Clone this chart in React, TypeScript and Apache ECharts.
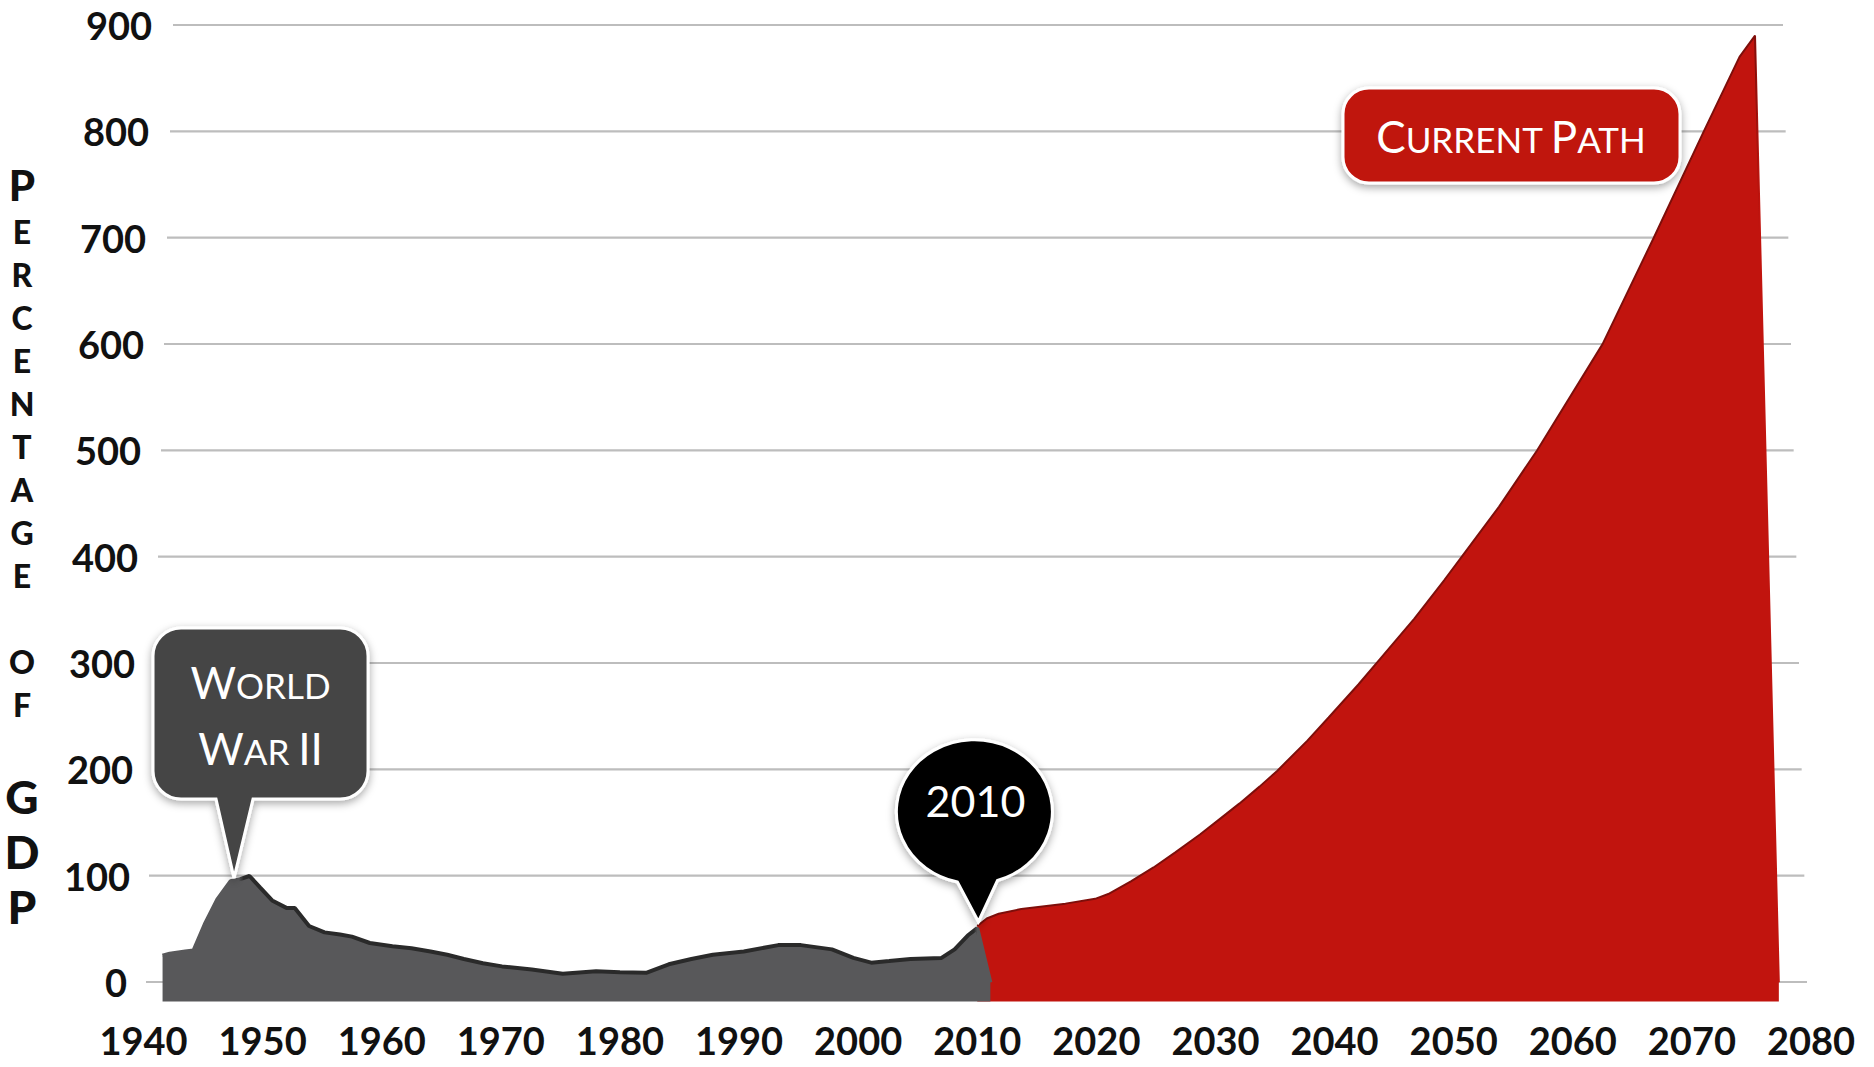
import React, { useEffect, useRef } from 'react';
import * as echarts from 'echarts';

// ---------- data ----------
const xTickYears = [1940, 1950, 1960, 1970, 1980, 1990, 2000, 2010, 2020, 2030, 2040, 2050, 2060, 2070, 2080];
const yTickValues = [0, 100, 200, 300, 400, 500, 600, 700, 800, 900];

const historyYears = [
  1941.6, 1942.2, 1943.5, 1944.2, 1945.2, 1946.2, 1947.3, 1948.1, 1948.9, 1949.8,
  1950.8, 1952.0, 1952.7, 1953.9, 1955.2, 1956.5, 1957.5, 1959.0, 1960.9, 1962.5,
  1964.1, 1965.5, 1966.9, 1968.5, 1970.1, 1972.6, 1975.2, 1978.0, 1980.0, 1982.2,
  1984.1, 1986.0, 1987.8, 1990.4, 1993.3, 1995.2, 1997.8, 1999.6, 2001.1, 2002.6,
  2004.4, 2007.0, 2008.1, 2009.2, 2010.0, 2011.1,
];
const historyValues = [
  25, 27, 29, 30, 56, 78, 95, 97, 100, 89,
  77, 70, 70, 53, 47, 45, 43, 37, 34, 32,
  29, 26, 22, 18, 15, 12, 8, 10.5, 9.5, 9,
  17, 22, 26, 29, 35, 35, 31, 23, 18.5, 20,
  22, 23, 31, 44, 51, 0,
];

const projectionYears = [
  2010.0, 2010.8, 2011.8, 2013.7, 2017.4, 2019.9, 2021.0, 2022.9, 2024.8, 2026.6,
  2028.7, 2030.3, 2032.0, 2033.7, 2035.2, 2037.7, 2039.5, 2042.0, 2043.9, 2046.7,
  2049.2, 2051.0, 2053.8, 2057.0, 2062.5, 2066.8, 2071.0, 2074.0, 2075.3, 2077.3,
];
const projectionValues = [
  53, 60, 64.5, 69, 74, 78.5, 83, 95, 108, 122,
  139, 153, 168, 184, 199, 227, 249, 280, 305, 342,
  378, 405, 447, 500, 600, 700, 800, 870, 890, 0,
];

const yTitle = ['P', 'E', 'R', 'C', 'E', 'N', 'T', 'A', 'G', 'E', '', 'O', 'F', '', 'G', 'D', 'P'];

// annotation anchors (data coordinates of the callout tips)
const wwAnchor = [1947.6, 98];
const yr2010Anchor = [2010.1, 57];

// ---------- shapes ----------
const WW_PATH =
  'M -53 -250 H 106 A 28 28 0 0 1 134 -222 V -107 A 28 28 0 0 1 106 -79 H 19 L 0 0 L -18 -79 H -53 A 28 28 0 0 1 -81 -107 V -222 A 28 28 0 0 1 -53 -250 Z';
const DROP_PATH = 'M -21 -39.7 A 78 72 0 1 1 19 -41.2 L 0 0 Z';

let registered = false;
function registerShapes() {
  if (registered) return;
  registered = true;
  echarts.graphic.registerShape('wwBubble', echarts.graphic.extendPath(WW_PATH, {}));
  echarts.graphic.registerShape('dropBubble', echarts.graphic.extendPath(DROP_PATH, {}));
}

const LABEL_FONT = 'Lato';
const CALLOUT_FONT = 'Lato';

export default function App() {
  const ref = useRef<HTMLDivElement>(null);

  useEffect(() => {
    registerShapes();
    const el = ref.current!;
    const chart = echarts.init(el, null, { renderer: 'svg' });

    const history = historyYears.map((y, i) => [y, historyValues[i]]);
    const projection = projectionYears.map((y, i) => [y, projectionValues[i]]);

    const maxV = yTickValues[yTickValues.length - 1];
    const yRich: any = {};
    yTickValues.forEach((v, i) => {
      yRich['t' + i] = {
        fontFamily: LABEL_FONT,
        fontWeight: 'bold',
        fontSize: 38,
        color: '#111',
        padding: [0, Math.round(25 * (1 - v / maxV)), 0, 0],
      };
    });

    const hMin = historyYears[0];
    const hMax = historyYears[historyYears.length - 1];
    const hDarkStart = (1948 - hMin) / (hMax - hMin);
    const hDarkEnd = (historyYears[historyYears.length - 2] - hMin) / (hMax - hMin);
    const pMin = projectionYears[0];
    const pMax = projectionYears[projectionYears.length - 1];
    const pPeak = (projectionYears[projectionYears.length - 2] - pMin) / (pMax - pMin);

    const GRAY = '#58585a';
    const DARK = '#2a2a2a';
    const RED = '#c1140e';

    chart.setOption({
      animation: false,
      backgroundColor: '#ffffff',
      grid: [
        { left: 152, right: 67, top: 25, bottom: 85, outerBoundsMode: 'none' },
        { left: 143.5, right: 63, top: 25, bottom: 65.5, outerBoundsMode: 'none' },
      ],
      xAxis: [
        { gridIndex: 0, type: 'value', min: 0, max: 1, show: false },
        {
          gridIndex: 1,
          type: 'value',
          min: 1940,
          max: 2080,
          interval: 10,
          axisLine: { show: false, onZero: false },
          axisTick: { show: false },
          splitLine: { show: false },
          axisLabel: {
            customValues: xTickYears,
            showMinLabel: true,
            showMaxLabel: true,
            margin: 19,
            fontFamily: LABEL_FONT,
            fontWeight: 'bold',
            fontSize: 38,
            color: '#111',
            formatter: (v: number) => String(v),
          },
        },
      ],
      yAxis: [
        {
          gridIndex: 0,
          type: 'value',
          min: 0,
          max: 900,
          interval: 100,
          axisLine: { show: false },
          axisTick: { show: false },
          splitLine: { show: false },
          axisLabel: {
            margin: 0,
            fontFamily: LABEL_FONT,
            fontWeight: 'bold',
            fontSize: 38,
            color: '#111',
            formatter: (v: number) => `{t${yTickValues.indexOf(v)}|${v}}`,
            rich: yRich,
          },
        },
        { gridIndex: 1, type: 'value', min: -18, max: 900, show: false },
      ],
      series: [
        {
          type: 'custom',
          xAxisIndex: 0,
          yAxisIndex: 0,
          z: 1,
          clip: false,
          silent: true,
          data: yTickValues.map((v) => [0, v]),
          renderItem: (params: any, api: any) => {
            const v = api.value(1);
            const y = api.coord([0, v])[1];
            const cs = params.coordSys;
            const k = v / maxV;
            return {
              type: 'line',
              shape: { x1: cs.x - 6 + 27 * k, y1: y, x2: cs.x + cs.width - 24 * k, y2: y },
              style: { stroke: '#bdbdbd', lineWidth: 2.2 },
            };
          },
        },
        {
          type: 'line',
          name: 'projection',
          xAxisIndex: 1,
          yAxisIndex: 1,
          z: 2,
          data: projection,
          symbol: 'none',
          showSymbol: false,
          lineStyle: {
            width: 2,
            color: {
              type: 'linear', x: 0, y: 0, x2: 1, y2: 0,
              colorStops: [
                { offset: 0, color: '#7e0e0a' },
                { offset: pPeak, color: '#7e0e0a' },
                { offset: Math.min(1, pPeak + 0.005), color: RED },
                { offset: 1, color: RED },
              ],
            },
          },
          areaStyle: { color: RED, opacity: 1, origin: 'start' },
        },
        {
          type: 'line',
          name: 'history',
          xAxisIndex: 1,
          yAxisIndex: 1,
          z: 3,
          data: history,
          symbol: 'none',
          showSymbol: false,
          lineStyle: {
            width: 4,
            color: {
              type: 'linear', x: 0, y: 0, x2: 1, y2: 0,
              colorStops: [
                { offset: 0, color: GRAY },
                { offset: hDarkStart, color: GRAY },
                { offset: hDarkStart + 0.006, color: DARK },
                { offset: hDarkEnd - 0.004, color: DARK },
                { offset: hDarkEnd, color: GRAY },
                { offset: 1, color: GRAY },
              ],
            },
          },
          areaStyle: { color: GRAY, opacity: 1, origin: 'start' },
        },
      ],
    });

    const ww = chart.convertToPixel({ gridIndex: 1 } as any, wwAnchor) as number[];
    const dr = chart.convertToPixel({ gridIndex: 1 } as any, yr2010Anchor) as number[];

    const shadow = { shadowBlur: 8, shadowColor: 'rgba(0,0,0,0.35)', shadowOffsetX: 0, shadowOffsetY: 3 };
    const capsRich = (fill: string) => ({
      b: { fontFamily: CALLOUT_FONT, fontSize: 44, fill, verticalAlign: 'bottom', lineHeight: 48 },
      s: { fontFamily: CALLOUT_FONT, fontSize: 35, fill, verticalAlign: 'bottom', lineHeight: 48, padding: [0, 0, 2, 0] },
    });

    chart.setOption({
      graphic: [
        {
          type: 'text',
          x: 22,
          y: 160,
          z: 10,
          style: {
            text: yTitle
              .map((c, i) => (c === '' ? '' : `{${i === 0 ? 'b' : i >= 14 ? 'g' : 's'}|${c}}`))
              .join('\n'),
            align: 'center',
            verticalAlign: 'top',
            fontFamily: LABEL_FONT,
            fontWeight: 900,
            fontSize: 32,
            lineHeight: 43,
            fill: '#111',
            rich: {
              b: { fontFamily: LABEL_FONT, fontWeight: 900, fontSize: 42, lineHeight: 50, fill: '#111', align: 'center' },
              s: { fontFamily: LABEL_FONT, fontWeight: 900, fontSize: 32, lineHeight: 43, fill: '#111', align: 'center' },
              g: { fontFamily: LABEL_FONT, fontWeight: 900, fontSize: 46, lineHeight: 55, fill: '#111', align: 'center' },
            },
          },
        },
        {
          type: 'wwBubble',
          x: ww[0],
          y: ww[1],
          z: 20,
          style: { fill: '#444444', stroke: '#ffffff', lineWidth: 3, ...shadow },
        },
        {
          type: 'text',
          x: ww[0] + 26.5,
          y: ww[1] - 198,
          z: 21,
          style: { text: '{b|W}{s|ORLD}', align: 'center', verticalAlign: 'middle', rich: capsRich('#ffffff') },
        },
        {
          type: 'text',
          x: ww[0] + 26.5,
          y: ww[1] - 132,
          z: 21,
          style: { text: '{b|W}{s|AR\u00a0}{b|II}', align: 'center', verticalAlign: 'middle', rich: capsRich('#ffffff') },
        },
        {
          type: 'dropBubble',
          x: dr[0],
          y: dr[1],
          z: 20,
          style: { fill: '#000000', stroke: '#ffffff', lineWidth: 3, ...shadow },
        },
        {
          type: 'text',
          x: dr[0] - 3,
          y: dr[1] - 121,
          z: 21,
          style: {
            text: '2010',
            align: 'center',
            verticalAlign: 'middle',
            fontFamily: CALLOUT_FONT,
            fontSize: 43,
            fill: '#ffffff',
          },
        },
        {
          type: 'rect',
          x: 1343,
          y: 88,
          z: 20,
          shape: { x: 0, y: 0, width: 337, height: 95, r: 26 },
          style: { fill: '#c0150f', stroke: '#ffffff', lineWidth: 3, ...shadow },
        },
        {
          type: 'text',
          x: 1511,
          y: 134,
          z: 21,
          style: {
            text: '{b|C}{s|URRENT\u00a0}{b|P}{s|ATH}',
            align: 'center',
            verticalAlign: 'middle',
            rich: capsRich('#ffffff'),
          },
        },
      ],
    });

    return () => {
      chart.dispose();
    };
  }, []);

  return (
    <div
      ref={ref}
      style={{ position: 'fixed', left: 0, top: 0, width: 1874, height: 1067, background: '#fff' }}
    />
  );
}
